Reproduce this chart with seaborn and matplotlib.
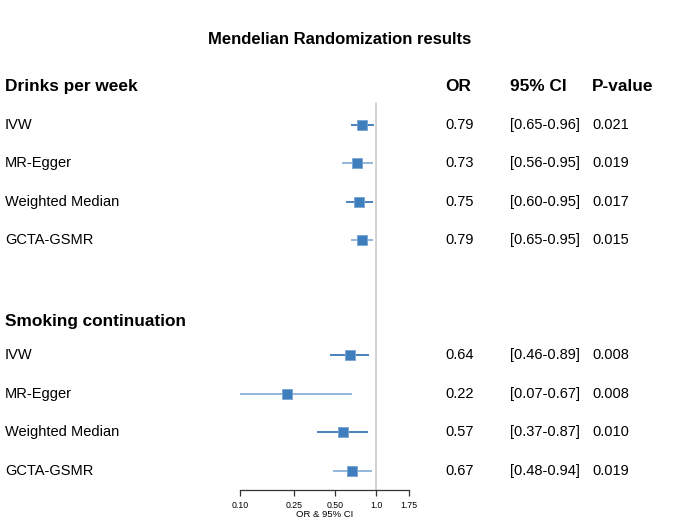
import pandas as pd
import matplotlib
matplotlib.use("Agg")
import matplotlib.pyplot as plt
import matplotlib.transforms as mtransforms
import seaborn as sns

groups = ["Drinks per week", "Smoking continuation"]
methods = ["IVW", "MR-Egger", "Weighted Median", "GCTA-GSMR"]

or_drinks = [0.79, 0.73, 0.75, 0.79]
lo_drinks = [0.65, 0.56, 0.60, 0.65]
hi_drinks = [0.96, 0.95, 0.95, 0.95]
p_drinks = ["0.021", "0.019", "0.017", "0.015"]

or_smoke = [0.64, 0.22, 0.57, 0.67]
lo_smoke = [0.46, 0.07, 0.37, 0.48]
hi_smoke = [0.89, 0.67, 0.87, 0.94]
p_smoke = ["0.008", "0.008", "0.010", "0.019"]

tick_vals = [0.10, 0.25, 0.50, 1.0, 1.75]
tick_labels = ["0.10", "0.25", "0.50", "1.0", "1.75"]

rows = []
for g, ors, los, his, ps in [(groups[0], or_drinks, lo_drinks, hi_drinks, p_drinks),
                             (groups[1], or_smoke, lo_smoke, hi_smoke, p_smoke)]:
    for m, o, l, h, p in zip(methods, ors, los, his, ps):
        rows.append(dict(group=g, method=m, OR=o, lo=l, hi=h, p=p))
df = pd.DataFrame(rows)
# slot positions: header at 0 / 6, rows at 1-4 / 7-10
df["slot"] = [1, 2, 3, 4, 7, 8, 9, 10]
header_slots = [0, 6.12]

sns.set_style("white")
plt.rcParams["font.family"] = ["Liberation Sans", "DejaVu Sans"]
plt.rcParams["text.color"] = "black"
plt.rcParams["axes.labelcolor"] = "black"
plt.rcParams["xtick.color"] = "black"

fig = plt.figure(figsize=(6.85, 5.2), dpi=100)
ax = fig.add_axes([240 / 685, 30 / 520, 169 / 685, 423 / 520])
ax.set_xscale("log")
ax.set_xlim(0.1, 1.75)
ax.set_ylim(10.5, -0.5)

ax.axvline(1.0, ymin=0, ymax=(10.5 - 0.44) / 11, color="#cccccc", lw=1.2, zorder=0)

dark = "#4a82bb"
light = "#93b8da"
for i, r in df.iterrows():
    c = dark if r["method"] in ("IVW", "Weighted Median") else light
    ax.hlines(r["slot"], r["lo"], r["hi"], color=c, lw=1.4, zorder=1)

sns.scatterplot(data=df, x="OR", y="slot", marker="s", s=55, color="#3f7ebd",
                edgecolor="#7aa6d3", linewidth=0.6, ax=ax, zorder=2, legend=False)

for s in ["top", "left", "right"]:
    ax.spines[s].set_visible(False)
ax.spines["bottom"].set_bounds(0.1, 1.75)
ax.spines["bottom"].set_color("#333333")
ax.spines["bottom"].set_linewidth(0.9)
ax.set_yticks([])
ax.set_xticks(tick_vals)
ax.set_xticklabels(tick_labels, fontsize=6.3)
ax.xaxis.set_minor_locator(matplotlib.ticker.NullLocator())
ax.tick_params(axis="x", bottom=True, direction="out", length=4, width=0.9,
               color="#333333", pad=4)
ax.set_xlabel("OR & 95% CI", fontsize=6.8, labelpad=0)
ax.set_ylabel("")

tr = mtransforms.blended_transform_factory(fig.transFigure, ax.transData)
x_lab, x_or, x_ci, x_p = 5 / 685, 445 / 685, 510 / 685, 592 / 685

for slot, g in zip(header_slots, groups):
    ax.text(x_lab, slot, g, transform=tr, fontsize=12.4, fontweight="bold", va="center", ha="left")
ax.text(x_or, 0, "OR", transform=tr, fontsize=12.4, fontweight="bold", va="center")
ax.text(x_ci, 0, "95% CI", transform=tr, fontsize=12.4, fontweight="bold", va="center")
ax.text(x_p, 0, "P-value", transform=tr, fontsize=12.4, fontweight="bold", va="center")

for i, r in df.iterrows():
    ax.text(x_lab, r["slot"], r["method"], transform=tr, fontsize=10.5, va="center")
    ax.text(x_or, r["slot"], f"{r['OR']:.2f}", transform=tr, fontsize=10.5, va="center")
    ax.text(x_ci, r["slot"], f"[{r['lo']:.2f}-{r['hi']:.2f}]", transform=tr, fontsize=10.5, va="center")
    ax.text(x_p, r["slot"], r["p"], transform=tr, fontsize=10.5, va="center")

fig.suptitle("Mendelian Randomization results", x=340 / 685, y=1 - 40 / 520,
             fontsize=12, fontweight="bold", va="center")

fig.savefig("out.png", dpi=100)
